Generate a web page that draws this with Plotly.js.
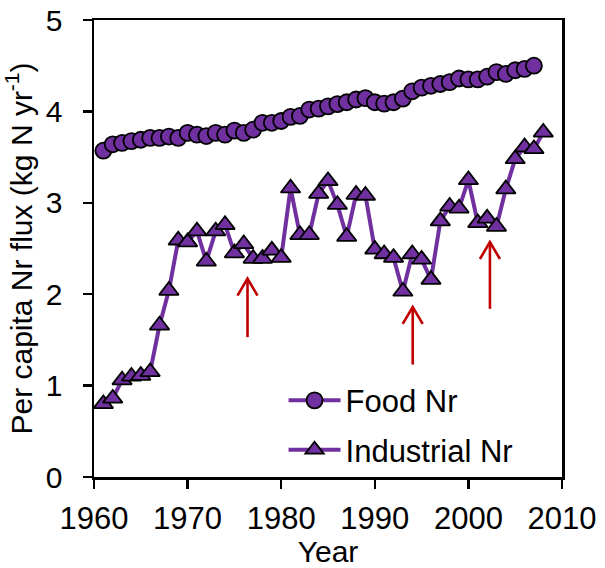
<!DOCTYPE html>
<html>
<head>
<meta charset="utf-8">
<script src="https://cdn.plot.ly/plotly-3.0.1.min.js"></script>
<style>html,body{margin:0;padding:0;background:#fff;}#chart{width:605px;height:568px;}</style>
</head>
<body>
<div id="chart"></div>
<script>
const foodYears = [1961,1962,1963,1964,1965,1966,1967,1968,1969,1970,1971,1972,1973,1974,1975,1976,1977,1978,1979,1980,1981,1982,1983,1984,1985,1986,1987,1988,1989,1990,1991,1992,1993,1994,1995,1996,1997,1998,1999,2000,2001,2002,2003,2004,2005,2006,2007];
const foodNr = [3.57,3.64,3.655,3.675,3.69,3.71,3.71,3.725,3.71,3.765,3.745,3.73,3.765,3.745,3.79,3.765,3.80,3.875,3.875,3.895,3.94,3.95,4.02,4.03,4.055,4.08,4.10,4.13,4.145,4.10,4.085,4.10,4.14,4.22,4.26,4.28,4.30,4.32,4.36,4.35,4.35,4.38,4.43,4.41,4.45,4.465,4.50];
const indYears = [1961,1962,1963,1964,1965,1966,1967,1968,1969,1970,1971,1972,1973,1974,1975,1976,1977,1978,1979,1980,1981,1982,1983,1984,1985,1986,1987,1988,1989,1990,1991,1992,1993,1994,1995,1996,1997,1998,1999,2000,2001,2002,2003,2004,2005,2006,2007,2008];
const industrialNr = [0.80,0.86,1.06,1.10,1.11,1.15,1.66,2.04,2.59,2.57,2.69,2.36,2.69,2.76,2.45,2.55,2.39,2.39,2.48,2.40,3.16,2.65,2.65,3.10,3.24,2.98,2.63,3.09,3.08,2.49,2.44,2.40,2.03,2.44,2.38,2.16,2.80,2.96,2.94,3.25,2.78,2.83,2.74,3.15,3.48,3.61,3.59,3.77];
const arrowYears = [1976.4, 1994.05, 2002.3];
const arrowTips = [2.17, 1.86, 2.57];
const arrowTails = [1.53, 1.23, 1.84];
const xTicks = [1960,1970,1980,1990,2000,2010];
const yTicks = [0,1,2,3,4,5];

const purple = '#7030A0';
const red = '#C00000';
const fontFam = 'Arial, "Liberation Sans", sans-serif';
// arrowhead arm extents (years, y-units)
const armDX = 1.07, armDY = 0.185;

const traces = [
  {x: foodYears, y: foodNr, name: 'Food Nr', mode: 'lines+markers', legendgroup: 'a',
   line: {color: purple, width: 4},
   marker: {symbol: 'circle', size: 16, color: purple, line: {color: '#000', width: 1.8}}},
  {x: indYears, y: industrialNr, name: 'Industrial Nr', mode: 'lines+markers', legendgroup: 'b',
   line: {color: purple, width: 4},
   marker: {symbol: 'triangle-up', size: 17, color: purple, line: {color: '#000', width: 1.8}}}
];

const shapes = [];
arrowYears.forEach((yr, i) => {
  shapes.push({type: 'line', xref: 'x', yref: 'y', x0: yr, x1: yr, y0: arrowTails[i], y1: arrowTips[i],
               line: {color: red, width: 2.6}});
  shapes.push({type: 'path', xref: 'x', yref: 'y',
               path: 'M' + (yr - armDX) + ',' + (arrowTips[i] - armDY) + ' L' + yr + ',' + arrowTips[i] +
                     ' L' + (yr + armDX) + ',' + (arrowTips[i] - armDY),
               line: {color: red, width: 2.6}});
});

const layout = {
  width: 605, height: 568,
  margin: {l: 94, r: 43, t: 20, b: 91},
  paper_bgcolor: '#fff', plot_bgcolor: '#fff',
  font: {family: fontFam, size: 31, color: '#000'},
  showlegend: true,
  legend: {x: 0.405, y: 0.226, xanchor: 'left', yanchor: 'top', bgcolor: 'rgba(0,0,0,0)',
           font: {family: fontFam, size: 31, color: '#000'}, itemwidth: 52, tracegroupgap: 6},
  xaxis: {range: [1960, 2010], tickvals: xTicks, ticktext: xTicks.map(String), ticks: 'outside', ticklen: 9, tickwidth: 2.5,
          tickcolor: '#000', showline: true, linecolor: '#000', linewidth: 2.5, mirror: true, showgrid: false, zeroline: false,
          ticklabelstandoff: 3, tickfont: {family: fontFam, size: 31},
          title: {text: 'Year', font: {family: fontFam, size: 30}, standoff: 0}},
  yaxis: {range: [0, 5], tickvals: yTicks, ticktext: yTicks.map(String), ticks: 'outside', ticklen: 9, tickwidth: 2.5,
          tickcolor: '#000', showline: true, linecolor: '#000', linewidth: 2.5, mirror: true, showgrid: false, zeroline: false,
          ticklabelstandoff: 14, tickfont: {family: fontFam, size: 30},
          title: {text: 'Per capita Nr flux (kg N yr<sup>-1</sup>)', font: {family: fontFam, size: 30}, standoff: 6}},
  shapes: shapes
};

Plotly.newPlot('chart', traces, layout, {displayModeBar: false, staticPlot: true});
</script>
</body>
</html>
